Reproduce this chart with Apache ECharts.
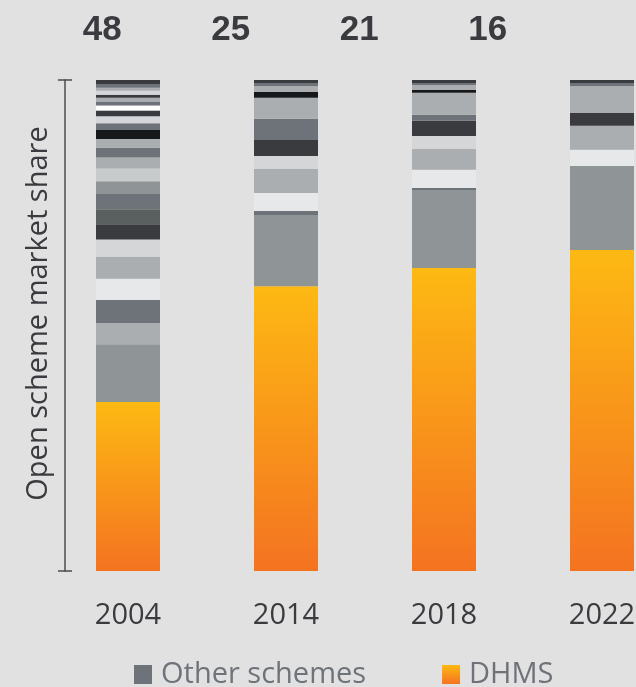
<!DOCTYPE html>
<html>
<head>
<meta charset="utf-8">
<script src="https://cdn.jsdelivr.net/npm/echarts@6/dist/echarts.min.js"></script>
<style>
  html, body { margin: 0; padding: 0; background: #e1e1e1; }
  #chart { width: 636px; height: 687px; }
</style>
</head>
<body>
<div id="chart"></div>
<script>
// Survey years and number of open schemes in each year
const years = ['2004', '2014', '2018', '2022'];
const schemeCounts = ['48', '25', '21', '16'];

// DHMS share of the open scheme market (%)
const dhmsShare = [34.4, 58.0, 61.7, 65.4];

// Shares of the other schemes (%), listed from the bottom of each bar upward
const others2004 = [11.8, 4.3, 4.7, 4.3, 4.5, 3.5, 3.1, 3.1, 3.1, 2.6, 2.6, 2.2, 2.0, 1.8, 1.8, 1.4, 1.4, 1.2, 1.0, 0.8, 0.8, 0.6, 0.8, 0.6, 0.8, 0.8];
const others2014 = [14.5, 0.8, 3.7, 4.9, 2.6, 3.3, 4.3, 4.3, 1.2, 1.2, 0.6, 0.6];
const others2018 = [15.9, 0.4, 3.7, 4.3, 2.6, 3.1, 1.2, 4.5, 0.6, 1.0, 0.4, 0.6];
const others2022 = [17.1, 3.3, 4.9, 2.6, 5.5, 0.6, 0.6];

// Grey shade used for each of those segments
const shades2004 = ['stone', 'silver', 'slate', 'mist', 'silver', 'pale', 'dark', 'moss', 'slate', 'stone', 'ash', 'silver', 'slate', 'silver', 'black', 'slate', 'pale', 'dark', 'white', 'slate', 'silver', 'dark', 'pale', 'silver', 'slate', 'dark'];
const shades2014 = ['stone', 'slate', 'mist', 'silver', 'pale', 'dark', 'slate', 'silver', 'black', 'silver', 'slate', 'dark'];
const shades2018 = ['stone', 'slate', 'mist', 'silver', 'pale', 'dark', 'slate', 'silver', 'black', 'silver', 'slate', 'dark'];
const shades2022 = ['stone', 'mist', 'silver', 'dark', 'silver', 'slate', 'dark'];

const palette = {
  dark: '#3a3b3f',
  slate: '#6e737a',
  silver: '#aaaeb0',
  pale: '#d5d6d8',
  mist: '#e7e8ea',
  stone: '#8f9496',
  black: '#17181a',
  ash: '#c8cbcc',
  moss: '#5a6060',
  white: '#ffffff'
};

const otherShares = [others2004, others2014, others2018, others2022];
const otherShades = [shades2004, shades2014, shades2018, shades2022];

const dhmsGradient = new echarts.graphic.LinearGradient(0, 0, 0, 1, [
  { offset: 0, color: '#fdb913' },
  { offset: 1, color: '#f47321' }
]);

const textFont = '"Open Sans", "Noto Sans", sans-serif';
const countFont = '"Liberation Sans", "DejaVu Sans", sans-serif';

const series = [{
  name: 'DHMS',
  type: 'bar',
  stack: 'share',
  barWidth: 64,
  itemStyle: { color: dhmsGradient },
  data: dhmsShare
}];

const layerCount = Math.max(...otherShares.map(a => a.length));
for (let i = 0; i < layerCount; i++) {
  series.push({
    name: 'Other schemes',
    type: 'bar',
    stack: 'share',
    barWidth: 64,
    data: years.map((y, j) => i < otherShares[j].length
      ? { value: otherShares[j][i], itemStyle: { color: palette[otherShades[j][i]] } }
      : '-')
  });
}

const tickStyle = { color: '#4a4b4f', width: 1.5 };

const chart = echarts.init(document.getElementById('chart'), null, { renderer: 'canvas' });
chart.setOption({
  backgroundColor: '#e1e1e1',
  animation: false,
  grid: [
    { left: 49, top: 80, width: 632, height: 491, outerBoundsMode: 'none', containLabel: false },
    { left: 38, top: 80, width: 514, height: 491, outerBoundsMode: 'none', containLabel: false }
  ],
  legend: {
    left: 134,
    top: 660,
    padding: 0,
    itemWidth: 18,
    itemHeight: 19,
    itemGap: 76,
    icon: 'rect',
    selectedMode: false,
    textStyle: { fontFamily: textFont, fontSize: 29, color: '#6e737a', padding: [0, 0, 0, 4] },
    data: [
      { name: 'Other schemes', itemStyle: { color: '#6e737a' } },
      { name: 'DHMS', itemStyle: { color: dhmsGradient } }
    ]
  },
  xAxis: [
    {
      type: 'category',
      gridIndex: 0,
      data: years,
      axisLine: { show: false },
      axisTick: { show: false },
      axisLabel: { fontFamily: textFont, fontSize: 29, color: '#3a3b3f', margin: 30 }
    },
    {
      type: 'category',
      gridIndex: 1,
      position: 'top',
      data: schemeCounts,
      axisLine: { show: false },
      axisTick: { show: false },
      axisLabel: { fontFamily: countFont, fontSize: 35, fontWeight: 'bold', color: '#3a3b3f', margin: 32 }
    }
  ],
  yAxis: [
    {
      type: 'value',
      gridIndex: 0,
      position: 'left',
      min: 0,
      max: 100,
      interval: 100,
      offset: -16,
      name: 'Open scheme market share',
      nameLocation: 'middle',
      nameRotate: 90,
      nameGap: 12,
      nameTextStyle: { fontFamily: textFont, fontSize: 29, color: '#3a3b3f', padding: [0, 0, 0, 24] },
      axisLine: { show: true, lineStyle: tickStyle },
      axisTick: { show: true, length: 7, lineStyle: tickStyle },
      axisLabel: { show: false },
      splitLine: { show: false }
    },
    {
      type: 'value',
      gridIndex: 0,
      position: 'left',
      min: 0,
      max: 100,
      interval: 100,
      offset: -16,
      axisLine: { show: false },
      axisTick: { show: true, inside: true, length: 7, lineStyle: tickStyle },
      axisLabel: { show: false },
      splitLine: { show: false }
    },
    {
      type: 'value',
      gridIndex: 1,
      show: false
    }
  ],
  series: series
});
</script>
</body>
</html>
